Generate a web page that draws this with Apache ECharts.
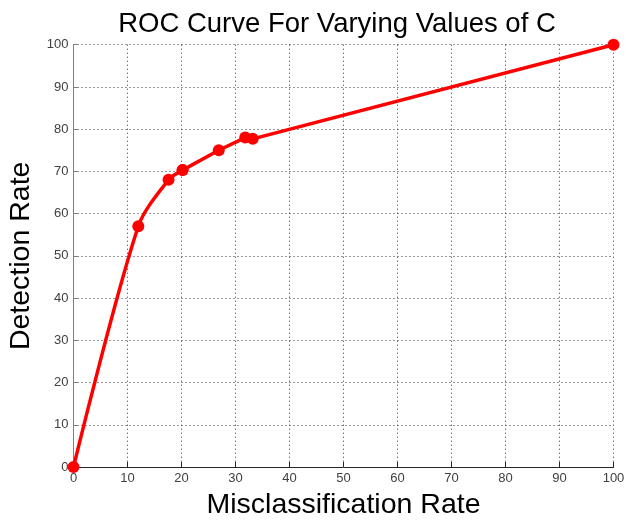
<!DOCTYPE html>
<html><head><meta charset="utf-8">
<script src="https://cdn.jsdelivr.net/npm/echarts@6/dist/echarts.min.js"></script>
<style>html,body{margin:0;padding:0;background:#fff}#c{width:626px;height:520px}</style>
</head><body><div id="c"></div>
<script>
const misclassification = [0, 12, 17.6, 20.2, 26.9, 31.8, 33.2, 100];
const detection = [0, 57, 68, 70.3, 75, 78, 77.7, 100];
const xTicks = [0,10,20,30,40,50,60,70,80,90,100];
const yTicks = [0,10,20,30,40,50,60,70,80,90,100];
const titleText = 'ROC Curve For Varying Values of C';
const xName = 'Misclassification Rate';
const yName = 'Detection Rate';

const chart = echarts.init(document.getElementById('c'), null, {renderer:'canvas'});
const font = 'Liberation Sans, Arial, sans-serif';
const pts = misclassification.map((x,i)=>[x, detection[i]]);
const lowPart = pts.slice(0, 4);   // curved rise near the origin
const highPart = pts.slice(3);     // rest of the curve
const red = '#ff0000';
chart.setOption({
  animation:false,
  backgroundColor:'#fff',
  title:{text:titleText,left:332,textAlign:'center',top:5,textStyle:{fontFamily:font,fontSize:27.5,fontWeight:'normal',color:'#000'}},
  grid:{left:73.5,right:12.5,top:44.7,bottom:53,containLabel:false,outerBoundsMode:'none'},
  xAxis:{type:'value',min:xTicks[0],max:xTicks[xTicks.length-1],interval:10,
    name:xName,nameLocation:'middle',nameGap:24,
    nameTextStyle:{fontFamily:font,fontSize:28.5,color:'#000'},
    axisLine:{lineStyle:{color:'#262626',width:1}},
    axisTick:{inside:true,length:5,lineStyle:{color:'#262626'}},
    axisLabel:{fontFamily:font,fontSize:13,color:'#404040',margin:5},
    splitLine:{show:true,lineStyle:{type:[1,3],color:'#333',width:1}}},
  yAxis:{type:'value',min:yTicks[0],max:yTicks[yTicks.length-1],interval:10,
    name:yName,nameLocation:'middle',nameGap:38,
    nameTextStyle:{fontFamily:font,fontSize:28.5,color:'#000'},
    axisLine:{show:true,lineStyle:{color:'#808080',width:1}},
    axisTick:{show:true,inside:true,length:5,lineStyle:{color:'#808080'}},
    axisLabel:{fontFamily:font,fontSize:13,color:'#404040',margin:5},
    splitLine:{show:true,lineStyle:{type:[1,3],color:'#333',width:1}}},
  series:[
    {type:'line',data:lowPart,smooth:0.3,symbol:'circle',symbolSize:12,
      lineStyle:{color:red,width:3.5},itemStyle:{color:red},clip:false},
    {type:'line',data:highPart,smooth:false,symbol:'circle',symbolSize:12,
      lineStyle:{color:red,width:3.5},itemStyle:{color:red},clip:false}
  ]
});
</script></body></html>
